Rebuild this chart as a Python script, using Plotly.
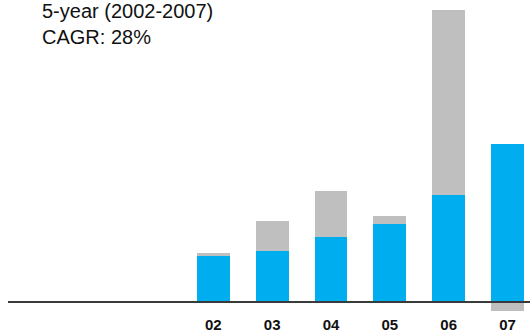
import plotly.graph_objects as go

years = ["02", "03", "04", "05", "06", "07"]
core_values = [46, 51, 65, 78, 107, 158]
other_values = [3, 30, 46, 8, 185, -9]

BLUE = "#00ADEF"
GRAY = "#BFBFBF"
FONT = "Liberation Sans, Arial, sans-serif"

x_pos = list(range(len(years)))

fig = go.Figure()
fig.add_trace(go.Bar(x=x_pos, y=core_values, marker=dict(color=BLUE, line=dict(width=0)),
                     width=0.56, showlegend=False, hoverinfo="skip"))
fig.add_trace(go.Bar(x=x_pos, y=other_values, marker=dict(color=GRAY, line=dict(width=0)),
                     width=0.56, showlegend=False, hoverinfo="skip"))

fig.add_shape(type="line", xref="paper", yref="y", x0=0, x1=1, y0=0, y1=0,
              line=dict(color="#3a3a3a", width=2), layer="above")

fig.add_annotation(xref="paper", yref="paper", x=32 / 522, y=1, xanchor="left", yanchor="top",
                   text="5-year (2002-2007)<br>CAGR: 28%", showarrow=False, align="left",
                   yshift=2, font=dict(family=FONT, size=20, color="#111111"))

fig.update_layout(
    width=530, height=335,
    margin=dict(l=8, r=0, t=0, b=21),
    paper_bgcolor="white", plot_bgcolor="white",
    barmode="relative", bargap=0,
    xaxis=dict(range=[-3.489, 5.382], tickmode="array", tickvals=x_pos, ticktext=years,
               showgrid=False, zeroline=False, showline=False, ticks="",
               tickfont=dict(family=FONT, size=15, color="#111111", weight="bold")),
    yaxis=dict(range=[-12, 302], showgrid=False, zeroline=False, showline=False,
               showticklabels=False, ticks=""),
)

fig.write_html("out.html")
